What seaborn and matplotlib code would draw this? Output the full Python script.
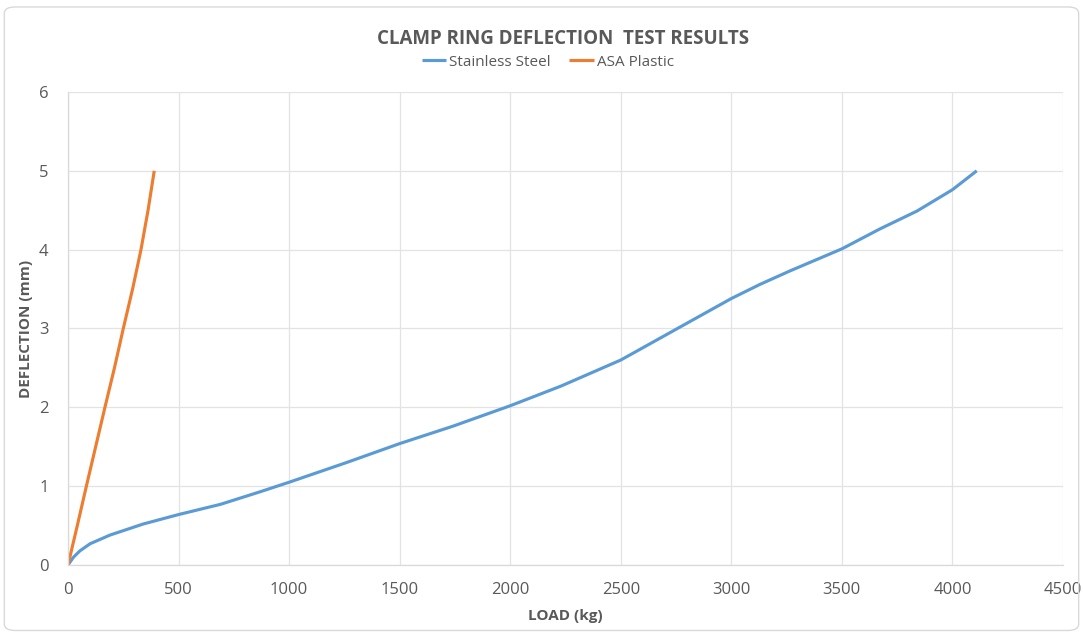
import matplotlib
matplotlib.use("Agg")
import matplotlib.pyplot as plt
import seaborn as sns
import pandas as pd
from matplotlib.patches import FancyBboxPatch

steel_load = [0, 25, 54, 100, 190, 340, 500, 690, 870, 1000, 1260, 1500, 1740, 1860, 2000,
              2230, 2500, 2750, 3000, 3130, 3265, 3500, 3670, 3840, 4000, 4110]
steel_defl = [0, 0.10, 0.18, 0.27, 0.38, 0.52, 0.64, 0.77, 0.93, 1.05, 1.30, 1.54, 1.76, 1.88, 2.02,
              2.27, 2.60, 2.99, 3.38, 3.56, 3.73, 4.01, 4.26, 4.49, 4.76, 5.0]
asa_load = [0, 42, 83, 125, 167, 210, 250, 292, 330, 362, 390]
asa_defl = [0, 0.5, 1.0, 1.5, 2.0, 2.5, 3.0, 3.5, 4.0, 4.5, 5.0]
series_names = ["Stainless Steel", "ASA Plastic"]
x_ticks = [0, 500, 1000, 1500, 2000, 2500, 3000, 3500, 4000, 4500]
y_ticks = [0, 1, 2, 3, 4, 5, 6]

df = pd.concat([
    pd.DataFrame({"load": steel_load, "defl": steel_defl, "series": series_names[0]}),
    pd.DataFrame({"load": asa_load, "defl": asa_defl, "series": series_names[1]}),
])

sns.set_theme(style="white")
plt.rcParams["font.family"] = ["Open Sans", "DejaVu Sans"]

fig = plt.figure(figsize=(10.83, 6.33), dpi=100)
fig.patch.set_facecolor("white")
border = FancyBboxPatch((0.004, 0.004), 0.992, 0.985, boxstyle="round,pad=0,rounding_size=0.01",
                        transform=fig.transFigure, fill=False, edgecolor="#d9d9d9", linewidth=1.0)
fig.patches.append(border)

ax = fig.add_axes([0.0628, 0.1074, 0.9187, 0.7473])
gray = "#595959"
sns.lineplot(data=df, x="load", y="defl", hue="series", sort=False, estimator=None,
             palette={"Stainless Steel": "#5b9bd5", "ASA Plastic": "#ed7d31"},
             linewidth=2.25, ax=ax, legend=True)
for line in ax.lines:
    line.set_solid_joinstyle("round")
    line.set_solid_capstyle("butt")

ax.set_xlim(0, 4500)
ax.set_ylim(0, 6)
ax.set_xticks(x_ticks)
ax.set_yticks(y_ticks)
ax.set_xticklabels([str(v) for v in x_ticks], color=gray, fontsize=12)
ax.set_yticklabels([str(v) for v in y_ticks], color=gray, fontsize=12)
ax.tick_params(axis="x", length=0, pad=12)
ax.tick_params(axis="y", length=0, pad=14)
ax.grid(True, color="#e3e3e3", linewidth=0.9)
ax.set_axisbelow(True)
for s in ["top", "right"]:
    ax.spines[s].set_visible(False)
for s in ["left", "bottom"]:
    ax.spines[s].set_color("#d9d9d9")
    ax.spines[s].set_linewidth(0.9)

ax.set_xlabel("LOAD (kg)", fontsize=11, fontweight="bold", color=gray, labelpad=8)
ax.set_ylabel("DEFLECTION (mm)", fontsize=11, fontweight="bold", color=gray, labelpad=4)

fig.text(0.52, 0.938, "CLAMP RING DEFLECTION  TEST RESULTS", ha="center", va="center",
         fontsize=13.5, fontweight="bold", color=gray)

handles, labels = ax.get_legend_handles_labels()
ax.legend(handles, labels, loc="center", bbox_to_anchor=(0.506, 0.902), bbox_transform=fig.transFigure,
          ncol=2, frameon=False, fontsize=11, handlelength=1.6, handletextpad=0.2, columnspacing=1.2,
          labelcolor=gray)

fig.savefig("out.png", dpi=100, facecolor="white")
